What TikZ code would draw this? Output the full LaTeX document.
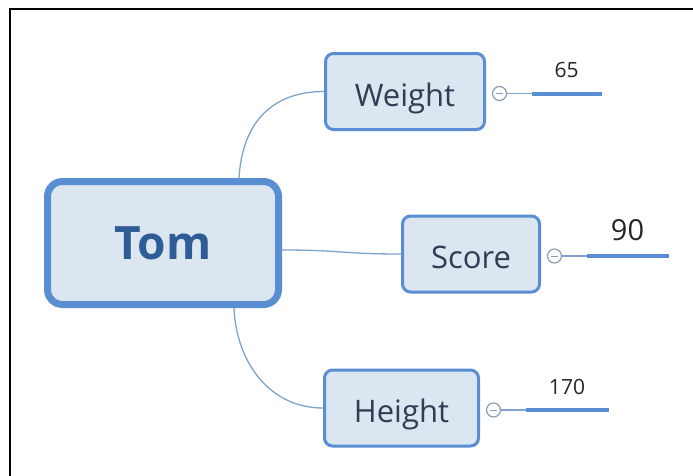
\documentclass[tikz,border=0pt]{standalone}
\usepackage{fontspec}
\setmainfont{Open Sans}
\usepackage{xcolor}
\usepackage{tikz}
\usetikzlibrary{positioning,calc}
\definecolor{bordoblu}{HTML}{5A8ED2}
\definecolor{fondoblu}{HTML}{DCE6F1}
\definecolor{scuro}{HTML}{2F3D55}
\definecolor{titolo}{HTML}{2D5C96}
\definecolor{linea}{HTML}{7FA3CF}
\definecolor{grigioblu}{HTML}{8A9DB5}
\colorlet{barrablu}{bordoblu}
\newcommand{\valore}[4]{%
\node[meno] (#1-m) at ($(#1.east)+(13.5,2)$) {};
\coordinate (#1-a) at ($(#1-m)+(32,0)$);
\coordinate (#1-b) at ($(#1-a)+(#2,0)$);
\draw[ramo] (#1-m) -- (#1-a);
\draw[barra] (#1-a) -- (#1-b);
\node[anchor=base,inner sep=0pt,text=black!85,font=\fontsize{#4}{#4}\selectfont]
  (#1-v) at ($(#1-a)!0.5!(#1-b)+(0,-16)$) {#3};
}
\tikzset{%
  radice/.style={%
    draw=bordoblu, line width=7pt, fill=fondoblu,
    rounded corners=15pt, minimum width=231pt, minimum height=123pt,
    text=titolo, font=\fontsize{46}{54}\selectfont\bfseries
  },
  voce/.style={%
    draw=bordoblu, line width=3pt, fill=fondoblu,
    rounded corners=8pt, minimum height=76pt,
    text height=29pt, text depth=0pt,
    text=scuro, font=\fontsize{31}{36}\selectfont
  },
  ramo/.style={draw=linea, line width=1.3pt},
  barra/.style={draw=barrablu, line width=4pt},
  meno/.style={%
    circle, draw=grigioblu, line width=1.2pt, fill=white,
    minimum size=14pt, inner sep=0pt,
    path picture={\draw[grigioblu, line width=1pt]
      ([xshift=-3.5pt]path picture bounding box.center) --
      ([xshift=3.5pt]path picture bounding box.center);}
  }
}

\begin{document}
\begin{tikzpicture}[x=1pt,y=-1pt]
\useasboundingbox (0,0) rectangle (693,475);
\fill[white] (0,0) rectangle (693,475);
\draw[black, line width=2pt] (10,476) -- (10,9) -- (694,9);

\node[radice] (tom) at (163,243) {Tom};
\node[voce, minimum width=159pt] (weight) at (405,91.5) {Weight};
\node[voce, minimum width=137pt] (score) at (471,254) {Score};
\node[voce, minimum width=154pt] (height) at (401.5,408) {Height};

% rami dal nodo centrale
\draw[ramo] ([xshift=-43pt]tom.north east)
  .. controls ([xshift=-40pt,yshift=52pt]tom.north east)
  and ([xshift=-55pt]weight.west) .. (weight.west);
\draw[ramo] ([yshift=-7pt]tom.east)
  .. controls ([xshift=60pt,yshift=-7pt]tom.east)
  and ([xshift=-60pt]score.west) .. (score.west);
\draw[ramo] ([xshift=-48pt]tom.south east)
  .. controls ([xshift=-46pt,yshift=-52pt]tom.south east)
  and ([xshift=-55pt]height.west) .. (height.west);

\valore{weight}{70}{65}{21}
\valore{score}{82}{90}{29}
\valore{height}{83}{170}{21}
\end{tikzpicture}
\end{document}
